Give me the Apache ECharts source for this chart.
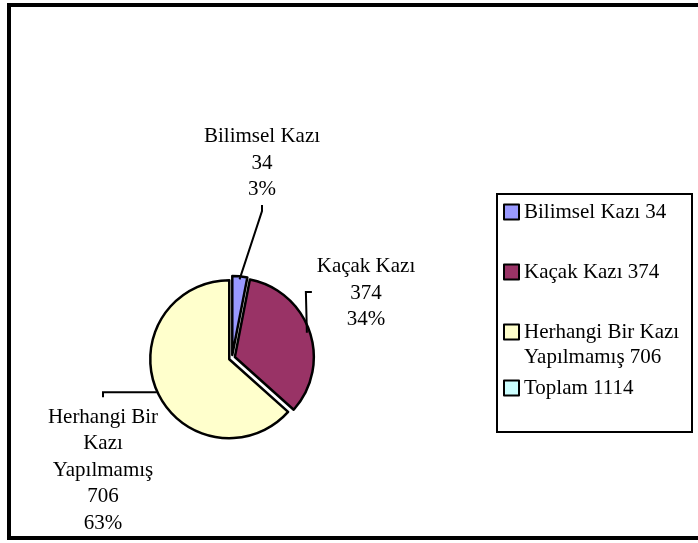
<!DOCTYPE html>
<html>
<head>
<meta charset="utf-8">
<script src="https://cdn.jsdelivr.net/npm/echarts@6/dist/echarts.min.js"></script>
<style>
  html, body { margin: 0; padding: 0; background: #fff; }
  #chart { width: 698px; height: 543px; }
</style>
</head>
<body>
<div id="chart"></div>
<script>
// Excavation status of sites, with the overall total shown in the legend
const categories = ['Bilimsel Kazı', 'Kaçak Kazı', 'Herhangi Bir Kazı Yapılmamış'];
const counts = [34, 374, 706];
const totalName = 'Toplam';
const totalCount = 1114;

// Wrapped text used for the slice labels and for the legend entries
const sliceLabelNames = ['Bilimsel Kazı', 'Kaçak Kazı', 'Herhangi Bir\nKazı\nYapılmamış'];
const legendNames = ['Bilimsel Kazı', 'Kaçak Kazı', 'Herhangi Bir Kazı\nYapılmamış', 'Toplam'];
const legendValues = counts.concat([totalCount]);

const colors = ['#9999FF', '#993366', '#FFFFCC', '#CCFFFF'];
const FONT = '"Liberation Serif", "Times New Roman", serif';

const PIE_CENTER = [232, 358];
const PIE_RADIUS = 79;

const chart = echarts.init(document.getElementById('chart'), null, { renderer: 'canvas' });

// Coloured, slightly exploded slices
const sliceData = categories.map((name, i) => ({
  name: name,
  value: counts[i],
  selected: true,
  itemStyle: { color: colors[i] }
}));
// The total only appears as a legend entry, so its slice has no size
sliceData.push({
  name: totalName,
  value: 0,
  itemStyle: { color: colors[3], borderWidth: 0 }
});

// Same values again, carrying the outside labels and leader lines
const labelData = categories.map((name, i) => ({ name: name, value: counts[i] }));

// Label block centres and leader line bends for each slice
function layoutLabel(params) {
  const i = params.dataIndex;
  const p0 = params.labelLinePoints ? params.labelLinePoints[0] : null;
  if (i === 0) {
    return {
      x: 262, y: 163, align: 'center', verticalAlign: 'middle',
      labelLinePoints: p0 ? [p0, [262, 211], [262, 205]] : undefined
    };
  }
  if (i === 1) {
    return {
      x: 366, y: 293, align: 'center', verticalAlign: 'middle',
      labelLinePoints: p0 ? [p0, [p0[0] - 1, 292], [p0[0] + 5, 292]] : undefined
    };
  }
  return {
    x: 103, y: 470, align: 'center', verticalAlign: 'middle',
    labelLinePoints: p0 ? [[p0[0] - 3, p0[1] + 2], [103, p0[1] + 2], [103, p0[1] + 7]] : undefined
  };
}

function legendText(name) {
  const i = categories.concat([totalName]).indexOf(name);
  // The wrapped entry starts with a blank line so its marker sits beside the first line
  const lead = legendNames[i].indexOf('\n') >= 0 ? '\n' : '';
  return lead + legendNames[i] + ' ' + legendValues[i];
}

// One legend block per entry so each row sits at its own height
const legendTops = [199.5, 259.5, 294.5, 375.5];
const legends = categories.concat([totalName]).map((name, i) => ({
  data: [name],
  orient: 'vertical',
  left: 503,
  top: legendTops[i],
  padding: 0,
  icon: 'rect',
  itemWidth: 15,
  itemHeight: 15,
  itemStyle: { borderColor: '#000', borderWidth: 2 },
  selectedMode: false,
  formatter: legendText,
  textStyle: {
    fontFamily: FONT,
    fontSize: 21,
    color: '#000',
    lineHeight: 25
  }
}));

chart.setOption({
  animation: false,
  backgroundColor: '#fff',
  graphic: [
    {
      type: 'rect',
      z: -10,
      shape: { x: 9, y: 5, width: 700, height: 533 },
      style: { fill: 'none', stroke: '#000', lineWidth: 4 }
    },
    {
      type: 'rect',
      z: -5,
      shape: { x: 497, y: 194, width: 195, height: 238 },
      style: { fill: '#fff', stroke: '#000', lineWidth: 2 }
    }
  ],
  legend: legends,
  series: [
    {
      type: 'pie',
      center: PIE_CENTER,
      radius: PIE_RADIUS,
      startAngle: 90,
      clockwise: true,
      selectedMode: 'multiple',
      selectedOffset: 3,
      emphasis: { disabled: true },
      itemStyle: { borderColor: '#000', borderWidth: 2.5 },
      label: { show: false },
      labelLine: { show: false },
      data: sliceData
    },
    {
      type: 'pie',
      center: PIE_CENTER,
      radius: PIE_RADIUS,
      startAngle: 90,
      clockwise: true,
      silent: true,
      z: 3,
      selectedMode: false,
      percentPrecision: 0,
      avoidLabelOverlap: false,
      emphasis: { disabled: true },
      itemStyle: { color: 'rgba(0,0,0,0)', borderWidth: 0 },
      label: {
        show: true,
        formatter: (p) => sliceLabelNames[p.dataIndex] + '\n' + p.value + '\n' + p.percent + '%',
        fontFamily: FONT,
        fontSize: 21,
        lineHeight: 26.5,
        color: '#000',
        align: 'center'
      },
      labelLine: {
        show: true,
        length: 10,
        length2: 10,
        lineStyle: { color: '#000', width: 2 }
      },
      labelLayout: layoutLabel,
      data: labelData
    }
  ]
});
</script>
</body>
</html>
